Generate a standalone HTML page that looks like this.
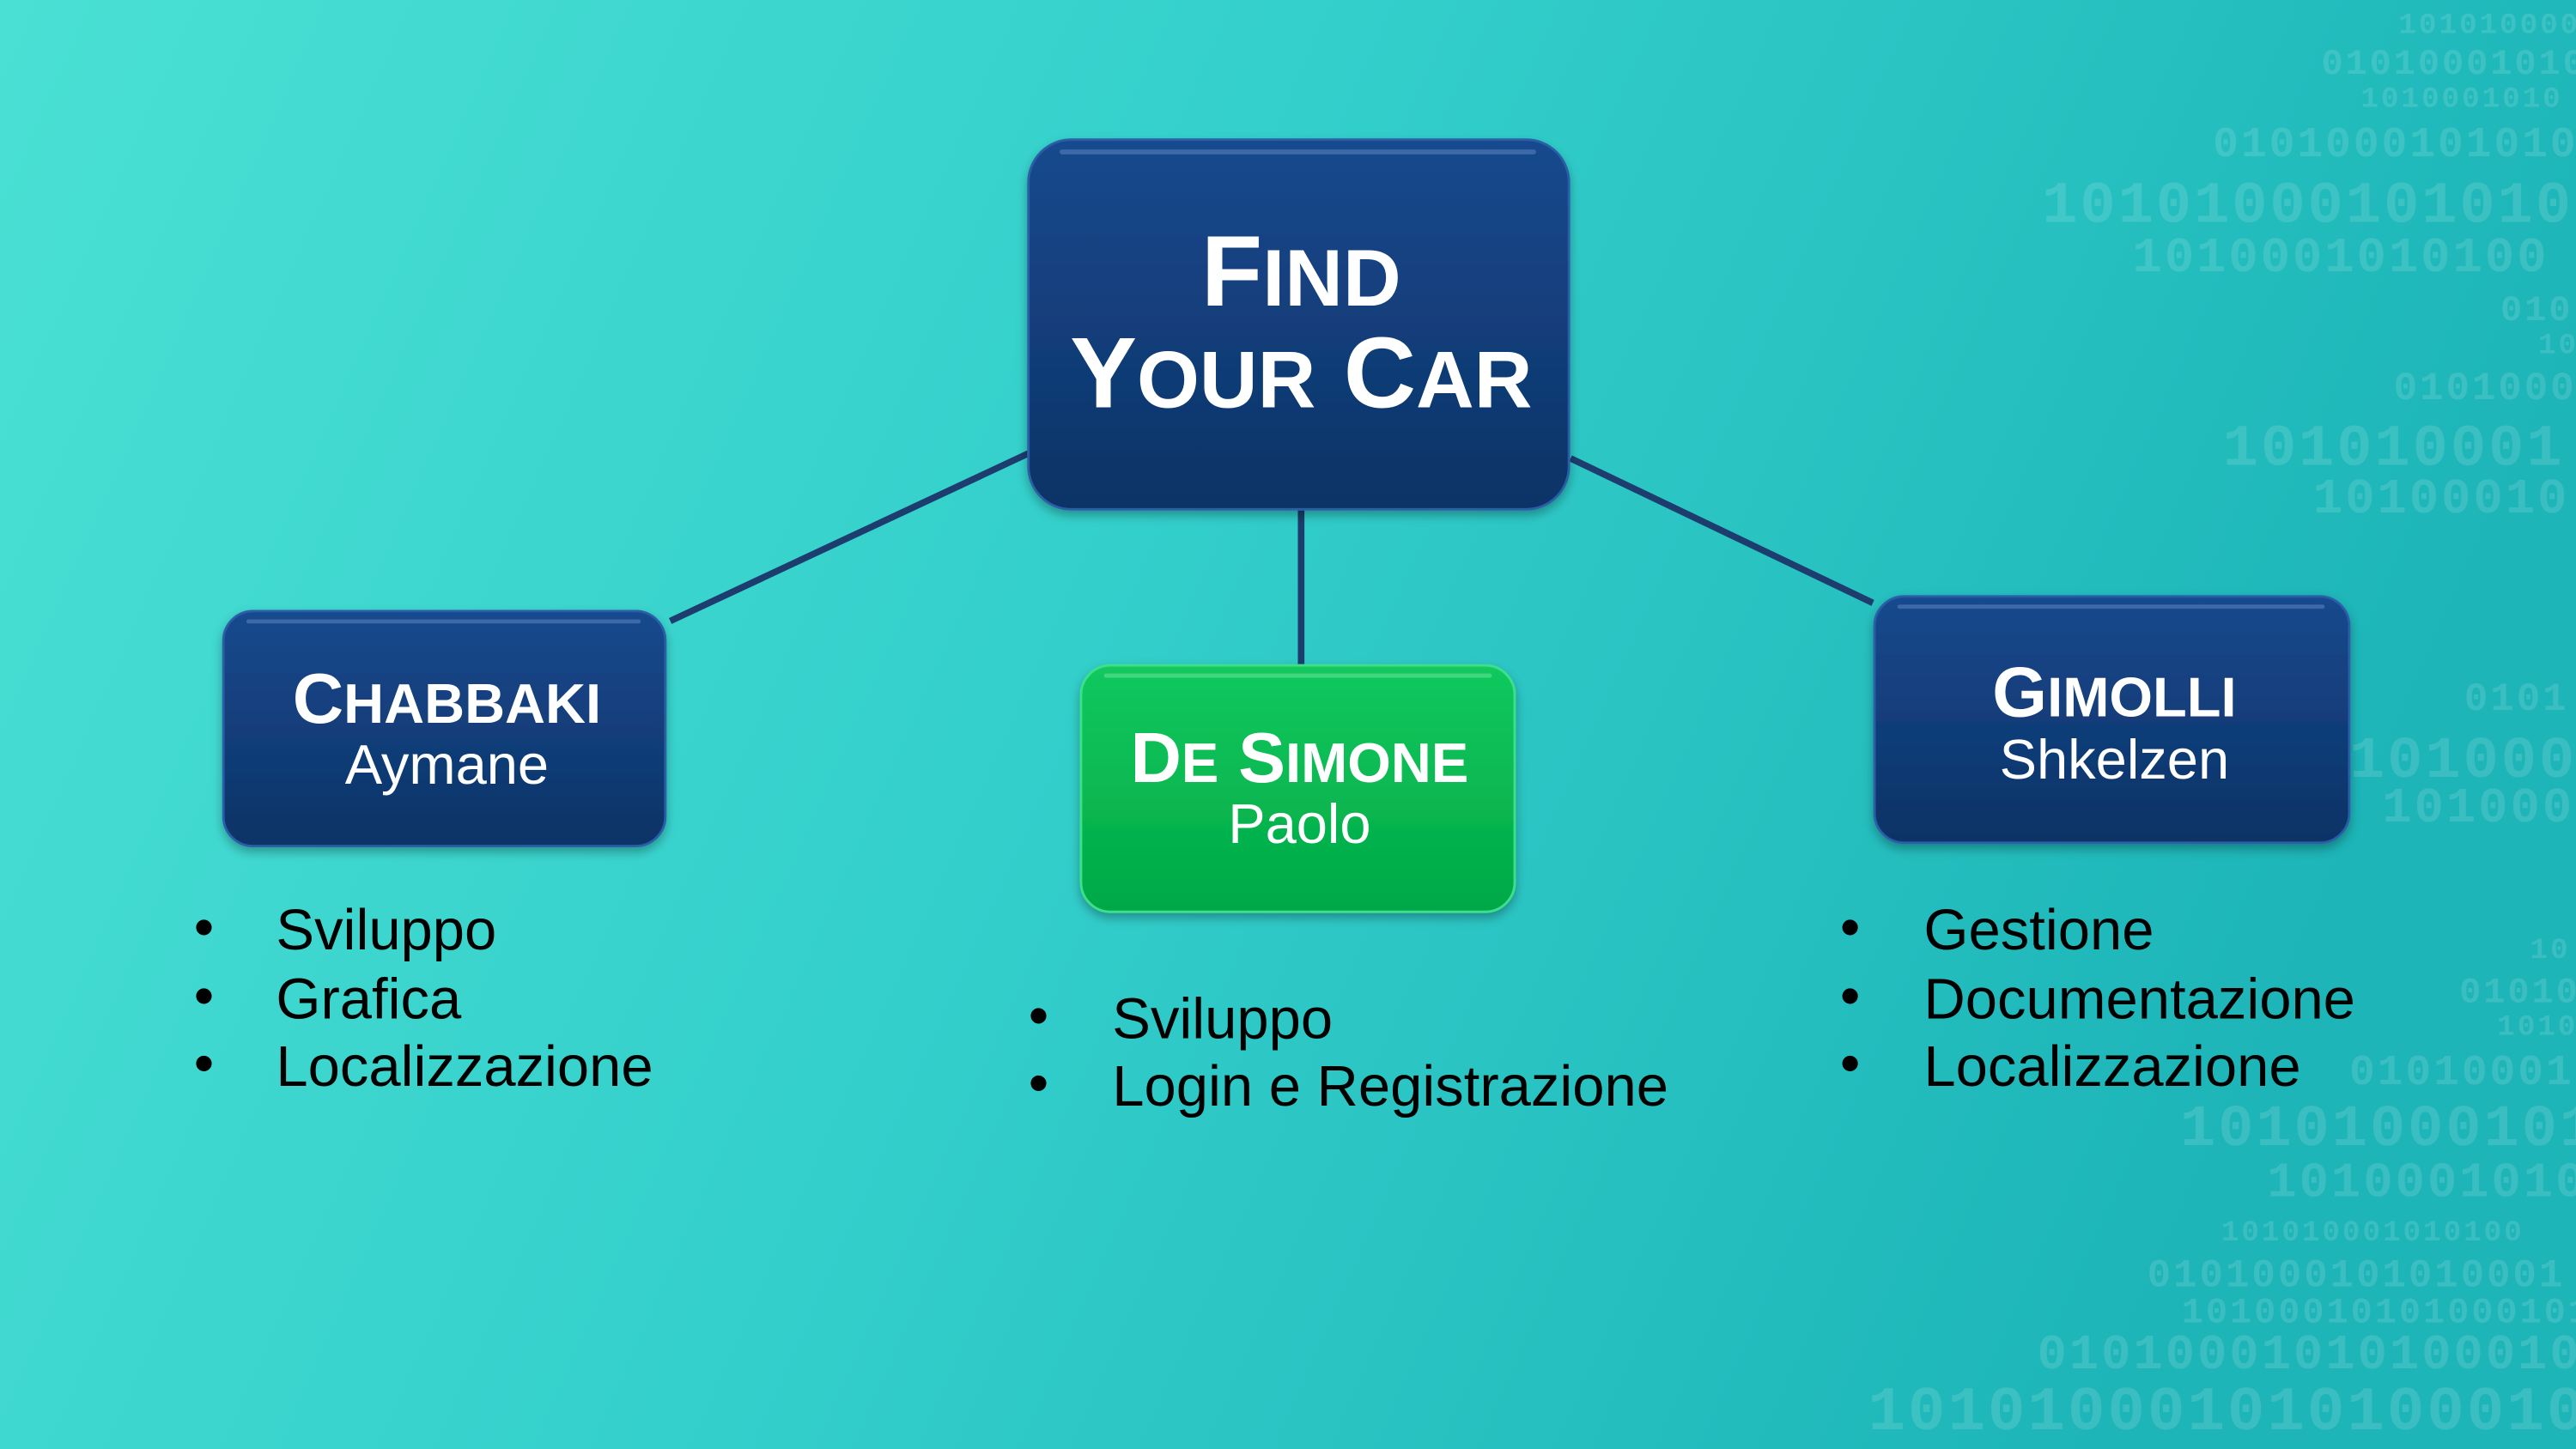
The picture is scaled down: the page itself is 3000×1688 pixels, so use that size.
<!DOCTYPE html>
<html><head><meta charset="utf-8"><style>
html,body{margin:0;padding:0;width:3000px;height:1688px;overflow:hidden}
svg{display:block}
</style></head><body>
<svg width="3000" height="1688" viewBox="0 0 1568 882" preserveAspectRatio="none" xmlns="http://www.w3.org/2000/svg">
<defs>
<linearGradient id="bg" x1="0" y1="0" x2="1" y2="0.25">
<stop offset="0" stop-color="#4ae0d4"/><stop offset="0.5" stop-color="#33cfcb"/><stop offset="1" stop-color="#1db5b8"/>
</linearGradient>
<linearGradient id="blue" x1="0" y1="0" x2="0" y2="1">
<stop offset="0" stop-color="#17498e"/><stop offset="1" stop-color="#0d3366"/>
</linearGradient>
<linearGradient id="green" x1="0" y1="0" x2="0" y2="1">
<stop offset="0" stop-color="#12c95e"/><stop offset="1" stop-color="#00a846"/>
</linearGradient>
<filter id="sh" x="-10%" y="-10%" width="120%" height="130%"><feDropShadow dx="0" dy="3" stdDeviation="3" flood-color="#000" flood-opacity="0.3"/></filter>
</defs>
<rect width="1568" height="882" fill="url(#bg)"/>
<g font-family="Liberation Mono, monospace" font-weight="bold" fill="#ffffff" fill-opacity="0.13" letter-spacing="1.5">
<text x="1460" y="20" font-size="18">1010100001</text>
<text x="1413" y="45" font-size="22">010100010101</text>
<text x="1437" y="65" font-size="18">1010001010</text>
<text x="1347" y="95" font-size="26">0101000101010</text>
<text x="1243" y="135" font-size="36">101010001010100</text>
<text x="1298" y="165" font-size="30">1010001010100</text>
<text x="1522" y="195" font-size="22">010</text>
<text x="1545" y="215" font-size="18">10</text>
<text x="1457" y="243" font-size="24">0101000</text>
<text x="1353" y="283" font-size="36">101010001</text>
<text x="1408" y="312" font-size="30">10100010</text>
<text x="1500" y="432" font-size="24">0101</text>
<text x="1430" y="473" font-size="36">101000</text>
<text x="1450" y="500" font-size="30">101000</text>
<text x="1540" y="583" font-size="18">10</text>
<text x="1497" y="610" font-size="22">01010</text>
<text x="1520" y="630" font-size="18">1010</text>
<text x="1430" y="660" font-size="26">01010001</text>
<text x="1327" y="697" font-size="36">101010001010</text>
<text x="1380" y="728" font-size="30">1010001010</text>
<text x="1352" y="755" font-size="18">101010001010100</text>
<text x="1307" y="783" font-size="24">0101000101010001</text>
<text x="1328" y="805" font-size="22">10100010101000101</text>
<text x="1240" y="833" font-size="30">0101000101010001010</text>
<text x="1137" y="870" font-size="38">101010001010100010</text>
</g>
<g stroke="#1c3d6e" stroke-width="4" fill="none">
<line x1="408" y1="378" x2="626" y2="276"/>
<line x1="792" y1="308" x2="792" y2="406"/>
<line x1="956" y1="279" x2="1140" y2="367"/>
</g>
<g font-family="Liberation Sans, Arial, sans-serif" fill="#fff" text-anchor="middle">
<g filter="url(#sh)">
<rect x="626" y="85" width="329" height="225" rx="26" fill="url(#blue)" stroke="#2a5ea8" stroke-width="1.5"/>
<rect x="645" y="91" width="290" height="3" rx="1.5" fill="#6c93cc" opacity="0.45"/>
<text x="792" y="186" font-weight="bold" font-size="61">F<tspan font-size="49">IND</tspan></text>
<text x="792" y="248" font-weight="bold" font-size="61">Y<tspan font-size="49">OUR</tspan> C<tspan font-size="49">AR</tspan></text>
</g>
<g filter="url(#sh)">
<rect x="136" y="372" width="269" height="143" rx="18" fill="url(#blue)" stroke="#2a5ea8" stroke-width="1.5"/>
<rect x="150" y="377" width="240" height="2.5" rx="1.2" fill="#6c93cc" opacity="0.45"/>
<text x="272" y="440" font-weight="bold" font-size="43">C<tspan font-size="34">HABBAKI</tspan></text>
<text x="272" y="477" font-size="34">Aymane</text>
</g>
<g filter="url(#sh)">
<rect x="658" y="405" width="264" height="150" rx="18" fill="url(#green)" stroke="#3ee08a" stroke-width="1.5"/>
<rect x="672" y="410" width="236" height="2.5" rx="1.2" fill="#7fe8a8" opacity="0.45"/>
<text x="791" y="476" font-weight="bold" font-size="43">D<tspan font-size="34">E</tspan> S<tspan font-size="34">IMONE</tspan></text>
<text x="791" y="513" font-size="34">Paolo</text>
</g>
<g filter="url(#sh)">
<rect x="1141" y="363" width="289" height="150" rx="18" fill="url(#blue)" stroke="#2a5ea8" stroke-width="1.5"/>
<rect x="1155" y="368" width="260" height="2.5" rx="1.2" fill="#6c93cc" opacity="0.45"/>
<text x="1287" y="436" font-weight="bold" font-size="43">G<tspan font-size="34">IMOLLI</tspan></text>
<text x="1287" y="474" font-size="34">Shkelzen</text>
</g>
</g>
<g font-family="Liberation Sans, Arial, sans-serif" fill="#000" font-size="35">
<g>
<text x="118" y="576">•</text><text x="168" y="578">Sviluppo</text>
<text x="118" y="618">•</text><text x="168" y="620">Grafica</text>
<text x="118" y="659">•</text><text x="168" y="661">Localizzazione</text>
</g>
<g>
<text x="626" y="630">•</text><text x="677" y="632">Sviluppo</text>
<text x="626" y="671">•</text><text x="677" y="673">Login e Registrazione</text>
</g>
<g>
<text x="1120" y="576">•</text><text x="1171" y="578">Gestione</text>
<text x="1120" y="618">•</text><text x="1171" y="620">Documentazione</text>
<text x="1120" y="659">•</text><text x="1171" y="661">Localizzazione</text>
</g>
</g>
</svg>
</body></html>
